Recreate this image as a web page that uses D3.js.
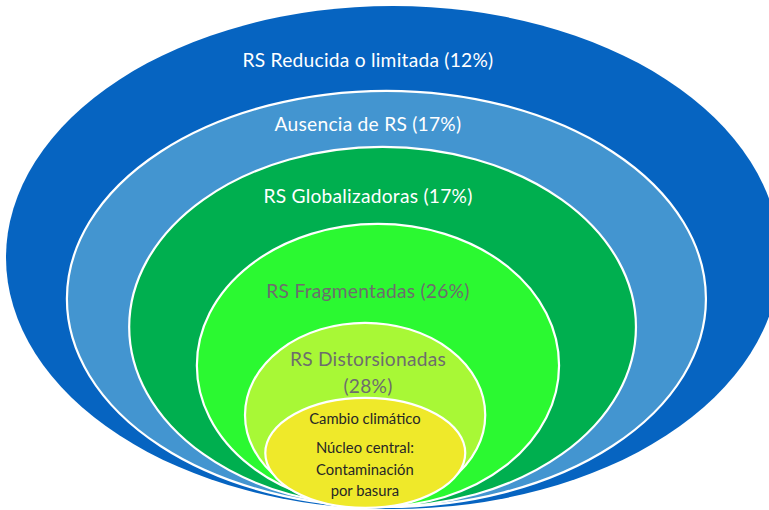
<!DOCTYPE html>
<html>
<head>
<meta charset="utf-8">
<script src="https://cdn.jsdelivr.net/npm/d3@7"></script>
<style>
  html, body { margin: 0; padding: 0; background: #ffffff; }
  svg { display: block; }
  text { font-family: "Lato", "Open Sans", sans-serif; }
</style>
</head>
<body>
<div id="chart"></div>
<script>
// Layers of social representations, outermost first
const layers = [
  "RS Reducida o limitada",
  "Ausencia de RS",
  "RS Globalizadoras",
  "RS Fragmentadas",
  "RS Distorsionadas",
  "Núcleo central"
];
const shares = [12, 17, 17, 26, 28, null];
const coreLines = ["Cambio climático", "Núcleo central:", "Contaminación", "por basura"];

// Layout: each layer's ellipse bounding box in a 0–1000 frame (left, top, right, bottom)
const W = 769, H = 510;
const frame = { x: [0, 1000], y: [0, 1000] };
const boxes = [
  [7.8, 11.8, 1014, 998],
  [87, 178, 918, 994],
  [168, 288, 827, 994],
  [256, 439, 727, 994],
  [318.6, 633, 631, 994],
  [345, 780, 605, 996]
];
const fills = ["#0664C1", "#4395D0", "#00AF4F", "#2BF931", "#A8F836", "#EFE92A"];
const textFills = ["#ffffff", "#ffffff", "#ffffff", "#6d6d6d", "#6d6d6d", "#262626"];

const x = d3.scaleLinear().domain(frame.x).range([0, W]);
const y = d3.scaleLinear().domain(frame.y).range([0, H]);

const svg = d3.select("#chart").append("svg")
  .attr("width", W).attr("height", H);

const rings = layers.map((name, i) => {
  const [l, t, r, b] = boxes[i];
  return {
    name, share: shares[i],
    cx: (x(l) + x(r)) / 2, cy: (y(t) + y(b)) / 2,
    rx: (x(r) - x(l)) / 2, ry: (y(b) - y(t)) / 2,
    fill: fills[i], text: textFills[i]
  };
});

svg.append("g").selectAll("ellipse")
  .data(rings)
  .join("ellipse")
  .attr("cx", d => d.cx)
  .attr("cy", d => d.cy)
  .attr("rx", d => d.rx)
  .attr("ry", d => d.ry)
  .attr("fill", d => d.fill)
  .attr("stroke", "#ffffff")
  .attr("stroke-width", (d, i) => i === 0 ? 0 : 2.2);

// Labels: baselines of each ring's caption, in the same frame
const labelX = 478.5;
const labelBase = [131, 257, 398, 584, [718, 771]];
const bigSize = 19.2, bigSpacing = 0.25;

const labels = svg.append("g").attr("text-anchor", "middle");
rings.slice(0, 4).forEach((d, i) => {
  labels.append("text")
    .attr("x", x(labelX))
    .attr("y", y(labelBase[i]))
    .attr("fill", d.text)
    .attr("font-size", bigSize)
    .attr("letter-spacing", bigSpacing)
    .text(`${d.name} (${d.share}%)`);
});
{
  const d = rings[4];
  labels.append("text")
    .attr("x", x(labelX)).attr("y", y(labelBase[4][0]))
    .attr("fill", d.text).attr("font-size", bigSize)
    .attr("letter-spacing", bigSpacing)
    .text(d.name);
  labels.append("text")
    .attr("x", x(labelX)).attr("y", y(labelBase[4][1]))
    .attr("fill", d.text).attr("font-size", bigSize)
    .attr("letter-spacing", bigSpacing)
    .text(`(${d.share}%)`);
}

// Core: climate change with its central nucleus
const coreX = 474.5;
const coreBase = [831, 888, 931, 973];
labels.selectAll("text.core")
  .data(coreLines)
  .join("text")
  .attr("class", "core")
  .attr("x", x(coreX))
  .attr("y", (d, i) => y(coreBase[i]))
  .attr("fill", rings[5].text)
  .attr("font-size", 14.8)
  .text(d => d);
</script>
</body>
</html>
